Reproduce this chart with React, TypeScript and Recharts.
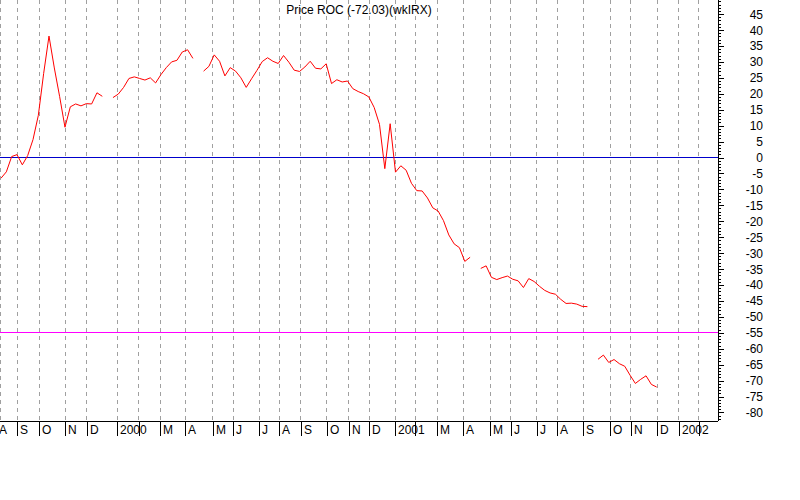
import React from 'react';
import { LineChart, Line, XAxis, YAxis, CartesianGrid, ReferenceLine } from 'recharts';

const TITLE = 'Price ROC (-72.03)(wkIRX)';

// weekly Price ROC values (null = missing week)
const WEEKLY_ROC: (number | null)[] = [
  -6.5, -4.5, 0.3, 0.9, -2.3, 0.6, 5.6, 13.2, 26.4, 38.1,
  28.1, 19.1, 9.5, 15.9, 16.8, 16.2, 16.9, 16.8, 20.3, 19.2,
  null, 18.8, 19.9, 22.0, 24.8, 25.3, 24.8, 24.3, 25.0, 23.4,
  26.0, 28.2, 30.0, 30.5, 33.1, 33.8, 31.1, null, 27.1, 28.6,
  32.2, 30.2, 25.6, 28.2, 27.1, 25.0, 22.0, 24.7, 27.3, 30.1,
  31.3, 30.2, 29.5, 32.0, 29.9, 27.4, 27.0, 28.4, 30.2, 28.0,
  27.8, 29.4, 23.2, 24.4, 23.7, 24.0, 21.6, 20.7, 20.0, 19.0,
  15.7, 10.4, -3.5, 10.6, -4.6, -2.6, -4.0, -8.1, -10.4, -10.5,
  -12.7, -15.8, -16.8, -19.8, -24.3, -27.1, -28.3, -32.6, -31.3, null,
  -34.8, -34.0, -37.6, -38.3, -37.7, -37.2, -38.2, -38.7, -40.8, -38.0,
  -38.9, -40.4, -41.7, -42.5, -42.9, -44.5, -45.8, -45.7, -46.0, -46.7,
  -46.8, null, -63.3, -62.0, -64.3, -63.4, -64.7, -65.5, -68.3, -70.9,
  -69.6, -68.5, -71.2, -72.03,
];

// month boundaries (in weeks) and their labels
const MONTH_TICKS = [
  -0.98, 3.06, 7.19, 12.06, 16.08, 21.82, 25.83, 29.83, 34.58, 39.72,
  43.58, 48.46, 52.21, 56.23, 61.11, 65.23, 69.1, 73.98, 77.73, 81.86,
  86.73, 91.74, 95.63, 100.51, 104.37, 109.25, 114.26, 118.14, 123.13, 127.15,
  130.9,
];
const MONTH_LABELS = [
  'A', 'S', 'O', 'N', 'D', '2000', '', 'M', 'A', 'M',
  'J', 'J', 'A', 'S', 'O', 'N', 'D', '2001', '', 'M',
  'A', 'M', 'J', 'J', 'A', 'S', 'O', 'N', 'D', '2002',
  '',
];

const Y_LABELS = [45, 40, 35, 30, 25, 20, 15, 10, 5, 0, -5, -10, -15, -20, -25, -30, -35, -40, -45, -50, -55, -60, -65, -70, -75, -80];
const Y_MIN = -82.68;
const Y_MAX = 49.42;
const X_MIN = -0.19;
const X_MAX = 134.5;

const ZERO_LINE = 0;
const SIGNAL_LINE = -55;

const Y_MINOR: number[] = [];
for (let v = Math.ceil(Y_MIN); v <= Math.floor(Y_MAX); v++) Y_MINOR.push(v);

const data = WEEKLY_ROC.map((v, i) => ({ w: i, roc: v }));

const FONT = '"Liberation Sans", Arial, sans-serif';

const XTick = (props: any) => {
  const { x, y, payload } = props;
  const idx = MONTH_TICKS.indexOf(payload.value);
  const label = idx >= 0 ? MONTH_LABELS[idx] : '';
  const px = Math.round(x) + 0.5;
  return (
    <g>
      <line x1={px} x2={px} y1={y} y2={y + 15} stroke="#000" strokeWidth={1} shapeRendering="crispEdges" />
      <text x={px + 2.5} y={y + 13} fontSize={12} fontFamily={FONT} fill="#000">
        {label}
      </text>
    </g>
  );
};

const YTick = (props: any) => {
  const { x, y, payload } = props;
  const v = payload.value as number;
  const major = v % 5 === 0;
  const py = Math.round(y) + 0.5;
  return (
    <g>
      <line x1={x} x2={x + (major ? 6 : 3)} y1={py} y2={py} stroke="#000" strokeWidth={1} shapeRendering="crispEdges" />
      {Y_LABELS.includes(v) ? (
        <text x={x + 45} y={y + 4.5} fontSize={12} fontFamily={FONT} fill="#000" textAnchor="end">
          {v}
        </text>
      ) : null}
    </g>
  );
};

export default function App() {
  return (
    <div style={{ position: 'absolute', left: 0, top: 0, width: 800, height: 500, background: '#fff' }}>
      <LineChart width={800} height={500} data={data} margin={{ top: 0, right: 0, bottom: 0, left: 0 }}>
        <CartesianGrid horizontal={false} vertical stroke="#a0a0a0" strokeDasharray="4 4" shapeRendering="crispEdges" />
        <XAxis
          dataKey="w"
          type="number"
          domain={[X_MIN, X_MAX]}
          allowDataOverflow
          ticks={MONTH_TICKS}
          interval={0}
          tick={<XTick />}
          tickLine={false}
          tickSize={0}
          tickMargin={0}
          height={79}
          axisLine={{ stroke: '#000', shapeRendering: 'crispEdges' }}
        />
        <YAxis
          orientation="right"
          type="number"
          domain={[Y_MIN, Y_MAX]}
          allowDataOverflow
          ticks={Y_MINOR}
          interval={0}
          tick={<YTick />}
          tickLine={false}
          tickSize={0}
          tickMargin={0}
          width={82}
          axisLine={{ stroke: '#000', shapeRendering: 'crispEdges' }}
        />
        <ReferenceLine y={ZERO_LINE} stroke="#0000cc" strokeWidth={1} shapeRendering="crispEdges" />
        <ReferenceLine y={SIGNAL_LINE} stroke="#ff00ff" strokeWidth={1} shapeRendering="crispEdges" />
        <Line
          type="linear"
          dataKey="roc"
          stroke="#ff0000"
          strokeWidth={1}
          dot={false}
          activeDot={false}
          connectNulls={false}
          isAnimationActive={false}
        />
      </LineChart>
      <div
        style={{
          position: 'absolute',
          left: 0,
          top: 3,
          width: 718,
          textAlign: 'center',
          fontFamily: FONT,
          fontSize: 12,
          lineHeight: '14px',
          color: '#000',
        }}
      >
        {TITLE}
      </div>
    </div>
  );
}
